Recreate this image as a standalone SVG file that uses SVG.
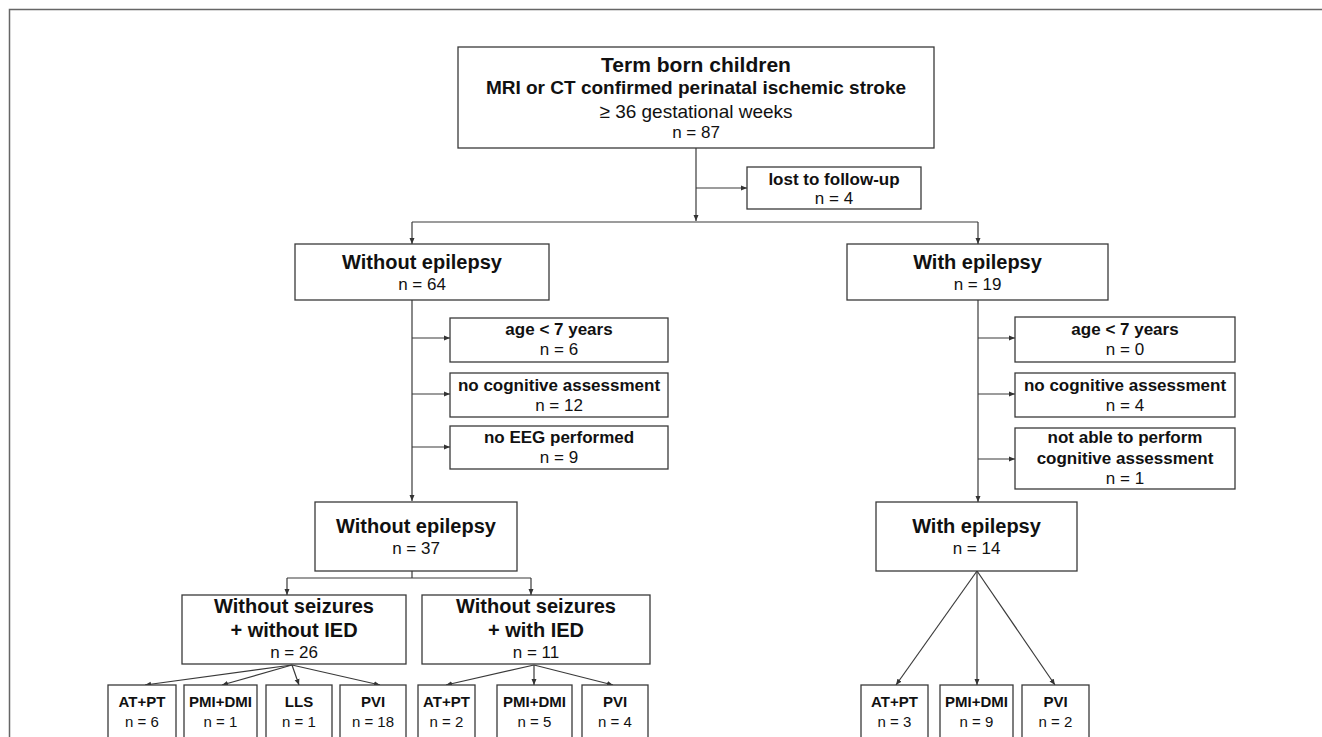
<svg xmlns="http://www.w3.org/2000/svg" width="1322" height="737" viewBox="0 0 1322 737">
<defs>
<marker id="ah" markerUnits="userSpaceOnUse" markerWidth="6" markerHeight="6" refX="6" refY="3" orient="auto">
<path d="M0,0.5 L6,3 L0,5.5 z" fill="#333"/>
</marker>
<style>
.box{fill:#fff;stroke:#3a3a3a;stroke-width:1.3}
.c{fill:none;stroke:#3a3a3a;stroke-width:1.2}
.a{fill:none;stroke:#3a3a3a;stroke-width:1.2;marker-end:url(#ah)}
text{font-family:"Liberation Sans",Arial,sans-serif;fill:#111;text-anchor:middle}
.b{font-weight:bold}
.t20{font-size:20px}
.t17{font-size:17px}
.t15{font-size:15px}
</style>
</defs>
<rect x="0" y="0" width="1322" height="737" fill="#fff"/>
<path d="M9.5,737 V9.5 H1322" fill="none" stroke="#666" stroke-width="1.5"/>

<g id="connectors">
<path class="a" d="M696,148 V221"/>
<path class="c" d="M412,222 H978"/>
<path class="a" d="M412,222 V244"/>
<path class="a" d="M978,222 V244"/>
<path class="a" d="M696,188 H747"/>
<path class="a" d="M412,300 V501"/>
<path class="a" d="M412,338 H450"/>
<path class="a" d="M412,394 H450"/>
<path class="a" d="M412,447 H450"/>
<path class="a" d="M978,300 V502"/>
<path class="a" d="M978,338 H1015"/>
<path class="a" d="M978,394 H1015"/>
<path class="a" d="M978,459 H1015"/>
<path class="c" d="M412,571 V578 M287,578 H531"/>
<path class="a" d="M287,578 V595"/>
<path class="a" d="M531,578 V595"/>
<path class="a" d="M292,665 L145,685"/>
<path class="a" d="M292,665 L222,685"/>
<path class="a" d="M292,665 L299,685"/>
<path class="a" d="M292,665 L380,685"/>
<path class="a" d="M534,665 L446,685"/>
<path class="a" d="M534,665 V685"/>
<path class="a" d="M534,665 L613,685"/>
<path class="a" d="M977,571 L896,685"/>
<path class="a" d="M977,571 V685"/>
<path class="a" d="M977,571 L1055,685"/>
</g>

<g id="n-term">
<rect class="box" x="458" y="47" width="476" height="101"/>
<text x="696" y="72" class="b" font-size="21">Term born children</text>
<text x="696" y="94" class="b" font-size="19">MRI or CT confirmed perinatal ischemic stroke</text>
<text x="696" y="118" font-size="19">≥ 36 gestational weeks</text>
<text x="696" y="138" class="t17">n = 87</text>
</g>

<g id="n-lost">
<rect class="box" x="747" y="167" width="174" height="42"/>
<text x="834" y="185" class="b t17">lost to follow-up</text>
<text x="834" y="204" class="t17">n = 4</text>
</g>

<g id="n-without64">
<rect class="box" x="295" y="244" width="254" height="56"/>
<text x="422" y="269" class="b t20">Without epilepsy</text>
<text x="422" y="290" class="t17">n = 64</text>
</g>

<g id="n-with19">
<rect class="box" x="847" y="244" width="261" height="56"/>
<text x="977.5" y="269" class="b t20">With epilepsy</text>
<text x="977.5" y="290" class="t17">n = 19</text>
</g>

<g id="n-age-l">
<rect class="box" x="450" y="318" width="218" height="44"/>
<text x="559" y="335" class="b t17">age &lt; 7 years</text>
<text x="559" y="355" class="t17">n = 6</text>
</g>
<g id="n-cog-l">
<rect class="box" x="450" y="373" width="218" height="44"/>
<text x="559" y="391" class="b t17">no cognitive assessment</text>
<text x="559" y="411" class="t17">n = 12</text>
</g>
<g id="n-eeg-l">
<rect class="box" x="450" y="426" width="218" height="43"/>
<text x="559" y="443" class="b t17">no EEG performed</text>
<text x="559" y="463" class="t17">n = 9</text>
</g>

<g id="n-age-r">
<rect class="box" x="1015" y="317" width="220" height="45"/>
<text x="1125" y="335" class="b t17">age &lt; 7 years</text>
<text x="1125" y="355" class="t17">n = 0</text>
</g>
<g id="n-cog-r">
<rect class="box" x="1015" y="373" width="220" height="44"/>
<text x="1125" y="391" class="b t17">no cognitive assessment</text>
<text x="1125" y="411" class="t17">n = 4</text>
</g>
<g id="n-notable-r">
<rect class="box" x="1015" y="428" width="220" height="61"/>
<text x="1125" y="443" class="b t17">not able to perform</text>
<text x="1125" y="464" class="b t17">cognitive assessment</text>
<text x="1125" y="484" class="t17">n = 1</text>
</g>

<g id="n-without37">
<rect class="box" x="315" y="502" width="202" height="69"/>
<text x="416" y="533" class="b t20">Without epilepsy</text>
<text x="416" y="554" class="t17">n = 37</text>
</g>

<g id="n-with14">
<rect class="box" x="876" y="502" width="201" height="69"/>
<text x="976.5" y="533" class="b t20">With epilepsy</text>
<text x="976.5" y="554" class="t17">n = 14</text>
</g>

<g id="n-noseiz-noied">
<rect class="box" x="182" y="595" width="224" height="69"/>
<text x="294" y="613" class="b t20">Without seizures</text>
<text x="294" y="637" class="b t20">+ without IED</text>
<text x="294" y="658" class="t17">n = 26</text>
</g>

<g id="n-noseiz-ied">
<rect class="box" x="422" y="595" width="228" height="69"/>
<text x="536" y="613" class="b t20">Without seizures</text>
<text x="536" y="637" class="b t20">+ with IED</text>
<text x="536" y="658" class="t17">n = 11</text>
</g>

<g id="n-a1">
<rect class="box" x="108" y="685" width="68" height="60"/>
<text x="142" y="707" class="b t15">AT+PT</text>
<text x="142" y="727" class="t15">n = 6</text>
</g>
<g id="n-a2">
<rect class="box" x="184" y="685" width="73" height="60"/>
<text x="220.5" y="707" class="b t15">PMI+DMI</text>
<text x="220.5" y="727" class="t15">n = 1</text>
</g>
<g id="n-a3">
<rect class="box" x="266" y="685" width="66" height="60"/>
<text x="299" y="707" class="b t15">LLS</text>
<text x="299" y="727" class="t15">n = 1</text>
</g>
<g id="n-a4">
<rect class="box" x="340" y="685" width="66" height="60"/>
<text x="373" y="707" class="b t15">PVI</text>
<text x="373" y="727" class="t15">n = 18</text>
</g>

<g id="n-b1">
<rect class="box" x="418" y="685" width="57" height="60"/>
<text x="446.5" y="707" class="b t15">AT+PT</text>
<text x="446.5" y="727" class="t15">n = 2</text>
</g>
<g id="n-b2">
<rect class="box" x="497" y="685" width="75" height="60"/>
<text x="534.5" y="707" class="b t15">PMI+DMI</text>
<text x="534.5" y="727" class="t15">n = 5</text>
</g>
<g id="n-b3">
<rect class="box" x="582" y="685" width="66" height="60"/>
<text x="615" y="707" class="b t15">PVI</text>
<text x="615" y="727" class="t15">n = 4</text>
</g>

<g id="n-c1">
<rect class="box" x="861" y="685" width="67" height="60"/>
<text x="894.5" y="707" class="b t15">AT+PT</text>
<text x="894.5" y="727" class="t15">n = 3</text>
</g>
<g id="n-c2">
<rect class="box" x="940" y="685" width="73" height="60"/>
<text x="976.5" y="707" class="b t15">PMI+DMI</text>
<text x="976.5" y="727" class="t15">n = 9</text>
</g>
<g id="n-c3">
<rect class="box" x="1022" y="685" width="67" height="60"/>
<text x="1055.5" y="707" class="b t15">PVI</text>
<text x="1055.5" y="727" class="t15">n = 2</text>
</g>
</svg>
